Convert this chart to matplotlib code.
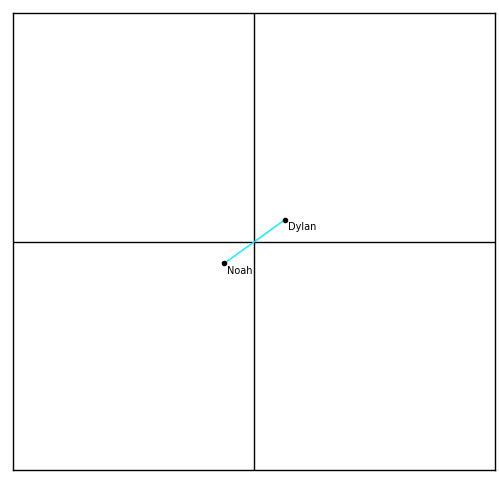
import matplotlib
matplotlib.use("Agg")
import matplotlib.pyplot as plt

# points
names = ["Dylan", "Noah"]
xs = [0.129, -0.124]
ys = [0.096, -0.096]

W, H = 499, 479
fig = plt.figure(figsize=(W / 100, H / 100), dpi=100)
ax = fig.add_axes([13 / W, 9 / H, 482 / W, 457 / H])
ax.set_xlim(-1, 1)
ax.set_ylim(-1, 1)
ax.set_xticks([])
ax.set_yticks([])
for s in ax.spines.values():
    s.set_linewidth(1)

ax.axhline(0, color="black", lw=1)
ax.axvline(0, color="black", lw=1)

ax.plot(xs, ys, color="#00f0ff", lw=1)
ax.scatter(xs, ys, s=9, color="black", zorder=3)
for n, x, y in zip(names, xs, ys):
    ax.annotate(n, (x, y), xytext=(2, -2), textcoords="offset points",
                ha="left", va="top", fontsize=7)

fig.savefig("out.png", dpi=100)
